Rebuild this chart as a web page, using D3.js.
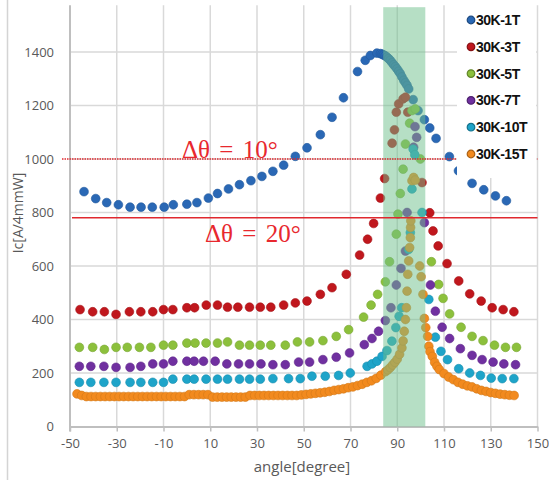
<!DOCTYPE html>
<html>
<head>
<meta charset="utf-8">
<script src="https://cdn.jsdelivr.net/npm/d3@7"></script>
<style>
  body { margin: 0; background: #fff; }
  text { font-family: "Open Sans", "Liberation Sans", sans-serif; }
</style>
</head>
<body>
<script>
const seriesNames = ['30K-1T', '30K-3T', '30K-5T', '30K-7T', '30K-10T', '30K-15T'];
const seriesColors = ['#2a68b5', '#c0171d', '#8cc03c', '#7030a0', '#1ea4c9', '#f28a1e'];

const xTicks = [-50, -30, -10, 10, 30, 50, 70, 90, 110, 130, 150];
const yTicks = [0, 200, 400, 600, 800, 1000, 1200, 1400];

// 30K-1T
const ang1T = [-44, -39, -34.3, -29.3, -24.3, -19.6, -14.8, -9.7, -5.8, 0, 4.3, 9.2, 13.1, 17.8, 22.5, 27.4, 32.1, 36.8, 41.4, 46.4,
  51.4, 57.1, 62.1, 67.0, 73.0, 76.3, 78.5, 81.3, 82.8, 83.5, 84.1, 84.8, 85.6, 86.3, 87.0, 87.8, 88.5, 89.2, 89.9, 90.6,
  91.3, 92.0, 92.8, 93.5, 94.2, 94.9, 96.8, 98.9, 101.6, 103.9, 106.6, 112.3, 116.2, 122.0, 127.0, 132.0, 136.7];
const ic1T = [878, 852, 837, 829, 820, 820, 820, 820, 829, 831, 837, 854, 871, 888, 904, 919, 935, 954, 977, 1010,
  1042, 1091, 1156, 1229, 1327, 1369, 1387, 1396, 1394, 1392, 1389, 1386, 1381, 1375, 1369, 1360, 1352, 1345, 1337, 1328,
  1319, 1307, 1294, 1285, 1275, 1262, 1222, 1181, 1147, 1116, 1077, 1009, 956, 909, 885, 862, 844];

// 30K-3T
const ang3T = [-45.7, -40.3, -35.3, -30.3, -24.6, -19.7, -14.6, -10, -6, 0, 3.3, 8.3, 13.1, 17.4, 21.8, 26.8, 31.4, 35.9, 41.4, 46.4,
  51.4, 57.1, 62.1, 68.2, 73.9, 77.3, 79.9, 82.8, 84.6, 87.8, 88.8, 89.6, 90.6, 92.5, 93.5, 94.5, 100.6, 103.9, 105.3, 107.5,
  111.3, 116.3, 121.0, 125.9, 130.6, 135.3, 139.9];
const ic3T = [437, 429, 429, 419, 429, 429, 429, 437, 437, 444, 444, 454, 454, 446, 446, 446, 446, 446, 454, 462,
  469, 494, 519, 569, 641, 700, 759, 854, 927, 1059, 1109, 1175, 1206, 1225, 1231, 1175, 912, 799, 731, 675,
  609, 544, 496, 469, 444, 437, 429];

// 30K-5T
const ang5T = [-46, -40.3, -35.3, -30.3, -25.5, -20.3, -15.4, -10, -6, 0, 3.5, 8.2, 13.1, 17.4, 22.5, 26.8, 31.4, 35.9, 42.1, 47.3,
  52.5, 58.2, 63.9, 69.2, 75.6, 78.8, 81.6, 84.9, 86.7, 89.6, 90.3, 91.3, 92.5, 93.5, 95.3, 96.3, 97.7, 99.9, 104.6, 107.7,
  109.6, 112.4, 117.3, 122.0, 126.7, 131.6, 136.3, 141.0];
const ic5T = [296, 296, 288, 296, 296, 296, 296, 304, 304, 312, 312, 312, 312, 316, 304, 304, 304, 304, 304, 316,
  316, 321, 337, 362, 409, 454, 494, 541, 616, 719, 794, 871, 962, 1056, 1134, 1181, 1187, 1000, 616, 531,
  479, 421, 371, 337, 321, 304, 296, 296];

// 30K-7T
const ang7T = [-46, -41.1, -35.5, -30.3, -24.3, -19.7, -14.6, -10, -6, 0, 3.1, 7.1, 12.1, 17.1, 22.1, 26.8, 31.7, 36.8, 42.1, 47.8,
  52.5, 58.2, 63.9, 69.6, 75.9, 79.2, 82.0, 84.9, 87.3, 89.6, 91.6, 93.5, 94.2, 97.0, 97.6, 98.3, 101.6, 104.2, 106.3, 109.2,
  112.4, 117.0, 122.0, 126.3, 131.0, 135.6, 140.6];
const ic7T = [225, 225, 225, 221, 221, 225, 234, 234, 244, 244, 244, 244, 244, 234, 234, 234, 234, 231, 231, 241,
  241, 250, 259, 275, 306, 329, 356, 396, 444, 529, 591, 656, 800, 1044, 1121, 1081, 762, 529, 431, 371,
  329, 291, 266, 250, 241, 234, 231];

// 30K-10T
const ang10T = [-46, -41.1, -35.5, -30.3, -24.3, -19.7, -14.6, -10, -6, 0, 3.1, 8.2, 13.1, 17.4, 22.5, 26.8, 31.4, 36.8, 43.5, 48.5,
  53.5, 59.2, 64.9, 69.9, 77.1, 79.2, 81.3, 83.5, 85.6, 87.7, 89.4, 90.8, 91.9, 94.9, 95.6, 96.3, 96.8, 97.5, 100.6, 103.5,
  106.3, 108.7, 111.5, 116.3, 121.0, 125.6, 130.2, 134.9, 139.9];
const ic10T = [165, 165, 165, 165, 165, 165, 165, 165, 177, 177, 177, 177, 177, 177, 177, 177, 177, 179, 179, 179,
  188, 188, 191, 200, 225, 234, 244, 262, 284, 319, 370, 412, 444, 662, 725, 888, 1037, 1016, 800, 475,
  334, 281, 250, 216, 200, 191, 181, 179, 179];

// 30K-15T
const ang15T = [-47, -45, -43, -41, -39, -37, -35, -33, -31, -29, -27, -25, -23, -21, -19, -17, -15, -13, -11, -9,
  -7, -5, -3, -1, 1, 3, 5, 7, 9, 11, 13, 15, 17, 19, 21, 23, 25, 27, 29, 31,
  33, 35, 37, 39, 41, 43, 45, 47, 49, 51, 53, 55, 57, 59, 61, 63, 65, 67, 69, 71,
  73, 75, 77, 79, 81, 83, 85, 86, 87, 88, 89, 90, 91, 92, 92.5, 93, 93.5, 93.9, 94.2, 94.5,
  94.9, 95.3, 95.6, 95.7, 95.8, 96.3, 97.0, 97.7, 99.6, 100.2, 101.0, 101.6, 102.2, 103.0, 103.5, 104, 105, 106, 107, 108,
  110, 112, 114, 116, 118, 120, 122, 124, 126, 128, 130, 132, 134, 136, 138, 140];
const ic15T = [122, 116, 112, 112, 112, 112, 112, 112, 112, 112, 112, 112, 112, 112, 112, 112, 112, 112, 112, 112,
  112, 112, 112, 112, 119, 119, 119, 119, 119, 110, 110, 110, 110, 110, 110, 110, 110, 116, 116, 116,
  116, 116, 116, 116, 116, 116, 116, 116, 118, 120, 122, 124, 126, 128, 131, 135, 138, 141, 145, 148,
  153, 158, 165, 171, 180, 192, 205, 212, 220, 230, 240, 252, 270, 294, 320, 356, 400, 444, 506, 569,
  619, 669, 706, 744, 769, 919, 931, 921, 600, 560, 494, 404, 370, 337, 300, 280, 262, 240, 225, 213,
  198, 185, 175, 165, 158, 152, 148, 141, 135, 131, 127, 124, 121, 119, 117, 116];

const bandRange = [84, 102];
const limitLines = [{ value: 1000, label: 'Δθ = 10°' }, { value: 780, label: 'Δθ = 20°' }];

const seriesData = [
  [ang1T, ic1T], [ang3T, ic3T], [ang5T, ic5T], [ang7T, ic7T], [ang10T, ic10T], [ang15T, ic15T]
].map(([a, v], i) => ({
  name: seriesNames[i],
  color: seriesColors[i],
  points: a.map((d, j) => ({ angle: d, ic: v[j] }))
}));

const svg = d3.select('body').append('svg')
  .attr('width', 549)
  .attr('height', 484);

const x = d3.scaleLinear().domain([-50, 150]).range([70, 537.5]);
const y = d3.scaleLinear().domain([0, 1575]).range([426.5, 5.2]);

// frame line on the left
svg.append('line')
  .attr('x1', 7.5).attr('x2', 7.5).attr('y1', 0).attr('y2', 480)
  .attr('stroke', '#d4d4d4').attr('stroke-width', 1.5);

// grid
svg.append('g').selectAll('line')
  .data(yTicks.filter(d => d > 0)).enter()
  .append('line')
  .attr('x1', x(-50)).attr('x2', x(150))
  .attr('y1', d => y(d)).attr('y2', d => y(d))
  .attr('stroke', '#d9d9d9').attr('stroke-width', 1.5);

svg.append('g').selectAll('line')
  .data(xTicks.filter(d => d > -50)).enter()
  .append('line')
  .attr('x1', d => x(d)).attr('x2', d => x(d))
  .attr('y1', y.range()[1]).attr('y2', y(0))
  .attr('stroke', '#d9d9d9').attr('stroke-width', 1.5);

// axes
const xAxis = svg.append('g')
  .attr('transform', `translate(0,${y(0)})`)
  .call(d3.axisBottom(x).tickValues(xTicks).tickFormat(d => String(d))
    .tickSize(5).tickSizeOuter(0).tickPadding(7));
xAxis.select('.domain').attr('stroke', '#bfbfbf').attr('stroke-width', 2);
xAxis.selectAll('.tick line').attr('stroke', '#bfbfbf').attr('stroke-width', 1.5);
xAxis.selectAll('text').attr('font-size', 13).attr('fill', '#595959')
  .style('font-family', '"Open Sans", sans-serif');

const yAxis = svg.append('g')
  .attr('transform', `translate(${x(-50)},0)`)
  .call(d3.axisLeft(y).tickValues(yTicks).tickFormat(d => String(d))
    .tickSize(0).tickPadding(16));
yAxis.select('.domain').remove();
yAxis.selectAll('text').attr('font-size', 13).attr('fill', '#595959')
  .style('font-family', '"Open Sans", sans-serif');

svg.append('line')
  .attr('x1', x(-50)).attr('x2', x(-50))
  .attr('y1', y.range()[1]).attr('y2', y(0) + 5)
  .attr('stroke', '#bfbfbf').attr('stroke-width', 2);

svg.append('text')
  .attr('x', 302).attr('y', 472)
  .attr('text-anchor', 'middle')
  .attr('font-size', 15).attr('fill', '#595959')
  .text('angle[degree]');

svg.append('text')
  .attr('transform', 'translate(23,213) rotate(-90)')
  .attr('text-anchor', 'middle')
  .attr('font-size', 14).attr('fill', '#595959')
  .text('Ic[A/4mmW]');

// points
seriesData.forEach(s => {
  svg.append('g').selectAll('circle')
    .data(s.points).enter()
    .append('circle')
    .attr('cx', d => x(d.angle))
    .attr('cy', d => y(d.ic))
    .attr('r', 4.4)
    .attr('fill', s.color)
    .attr('stroke', d3.color(s.color).darker(0.4))
    .attr('stroke-width', 0.6);
});

// green window
svg.append('rect')
  .attr('x', x(bandRange[0]))
  .attr('width', x(bandRange[1]) - x(bandRange[0]))
  .attr('y', y.range()[1] + 2)
  .attr('height', y(0) - y.range()[1] - 2)
  .attr('fill', '#6dbf8b')
  .attr('opacity', 0.5);

// limit lines
svg.append('line')
  .attr('x1', 62).attr('x2', x(150))
  .attr('y1', y(limitLines[0].value)).attr('y2', y(limitLines[0].value))
  .attr('stroke', '#e0282e').attr('stroke-width', 1.3)
  .attr('stroke-dasharray', '1.5,1');
svg.append('line')
  .attr('x1', 72).attr('x2', x(150))
  .attr('y1', y(limitLines[1].value)).attr('y2', y(limitLines[1].value))
  .attr('stroke', '#e0282e').attr('stroke-width', 1.5);

svg.append('text')
  .attr('x', 182).attr('y', y(limitLines[0].value) - 1)
  .attr('font-size', 25).attr('fill', '#e8282e')
  .attr('word-spacing', 3)
  .style('font-family', '"Liberation Serif", "DejaVu Serif", serif')
  .text(limitLines[0].label);
svg.append('text')
  .attr('x', 205).attr('y', y(limitLines[1].value) + 24)
  .attr('font-size', 25).attr('fill', '#e8282e')
  .attr('word-spacing', 3)
  .style('font-family', '"Liberation Serif", "DejaVu Serif", serif')
  .text(limitLines[1].label);

// legend
svg.append('rect')
  .attr('x', 457).attr('y', 4)
  .attr('width', 79).attr('height', 174)
  .attr('fill', '#fff');

const legend = svg.append('g').selectAll('g')
  .data(seriesData).enter()
  .append('g')
  .attr('transform', (d, i) => `translate(471,${20 + i * 26.8})`);
legend.append('circle')
  .attr('r', 3.8)
  .attr('fill', d => d.color)
  .attr('stroke', d => d3.color(d.color).darker(1))
  .attr('stroke-width', 1.2);
legend.append('text')
  .attr('x', 5).attr('y', 5)
  .attr('font-size', 14).attr('font-weight', 'bold').attr('fill', '#111')
  .attr('letter-spacing', -0.5)
  .style('font-family', '"Liberation Sans", Arial, sans-serif')
  .text(d => d.name);
</script>
</body>
</html>
